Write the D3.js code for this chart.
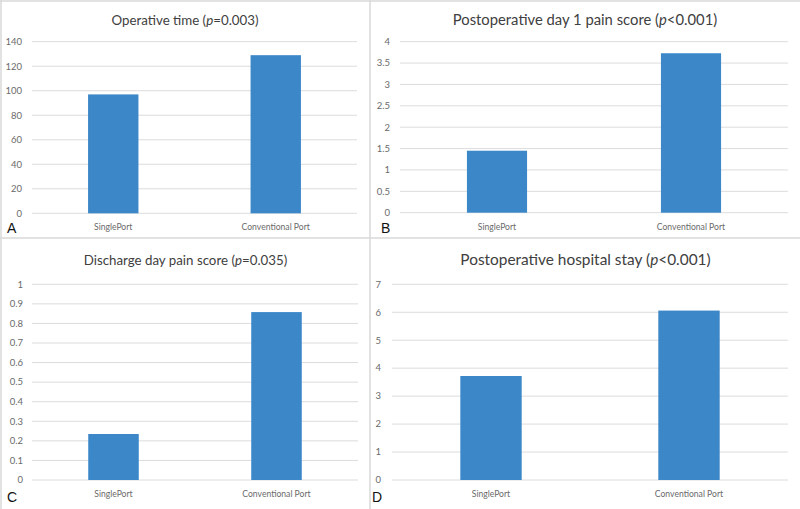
<!DOCTYPE html>
<html><head><meta charset="utf-8">
<script src="https://cdn.jsdelivr.net/npm/d3@7"></script>
<style>body{margin:0;background:#fff;} svg{display:block;}</style>
</head><body>
<svg id="c" width="800" height="509"></svg>
<script>
const categories = ["SinglePort", "Conventional Port"];
const operativeTime = [97, 129];
const day1Pain = [1.45, 3.73];
const dischargePain = [0.235, 0.858];
const hospitalStay = [3.72, 6.06];
const ticksA = [0, 20, 40, 60, 80, 100, 120, 140];
const ticksB = [0, 0.5, 1, 1.5, 2, 2.5, 3, 3.5, 4];
const ticksC = [0, 0.1, 0.2, 0.3, 0.4, 0.5, 0.6, 0.7, 0.8, 0.9, 1];
const ticksD = [0, 1, 2, 3, 4, 5, 6, 7];
const panels = [
  {letter:"A", title:"Operative time (", p:"p", rest:"=0.003)", values:operativeTime, ticks:ticksA, max:140,
   x0:32, x1:357, y0:213.3, y1:41.7, tx:185, ty:25, tsize:13.3, lx:7, ly:233, labRight:22},
  {letter:"B", title:"Postoperative day 1 pain score (", p:"p", rest:"<0.001)", values:day1Pain, ticks:ticksB, max:4,
   x0:400, x1:788, y0:212.7, y1:41.7, tx:585, ty:25, tsize:14.8, lx:381, ly:233, labRight:390},
  {letter:"C", title:"Discharge day pain score (", p:"p", rest:"=0.035)", values:dischargePain, ticks:ticksC, max:1,
   x0:32, x1:358, y0:480, y1:284.3, tx:185.5, ty:265, tsize:13.3, lx:7, ly:502, labRight:23},
  {letter:"D", title:"Postoperative hospital stay (", p:"p", rest:"<0.001)", values:hospitalStay, ticks:ticksD, max:7,
   x0:392, x1:788, y0:480, y1:284.3, tx:585.5, ty:265, tsize:15.4, lx:372, ly:502, labRight:381}
];
const svg = d3.select("#c");
const border = "#d9d9d9";
svg.append("line").attr("x1",1).attr("x2",1).attr("y1",0).attr("y2",509).attr("stroke",border).attr("stroke-width",1.5);
svg.append("line").attr("x1",0).attr("x2",800).attr("y1",1).attr("y2",1).attr("stroke",border).attr("stroke-width",1.5);
svg.append("line").attr("x1",370).attr("x2",370).attr("y1",0).attr("y2",509).attr("stroke",border).attr("stroke-width",1.5);
svg.append("line").attr("x1",0).attr("x2",800).attr("y1",238).attr("y2",238).attr("stroke",border).attr("stroke-width",1.5);

panels.forEach(P => {
  const g = svg.append("g");
  const x = d3.scaleBand().domain(categories).range([P.x0, P.x1]).padding(0);
  const y = d3.scaleLinear().domain([0, P.max]).range([P.y0, P.y1]);
  g.selectAll(".grid").data(P.ticks).join("line")
    .attr("x1", P.x0).attr("x2", P.x1)
    .attr("y1", d => y(d)).attr("y2", d => y(d))
    .attr("stroke", "#dcdcdc").attr("stroke-width", 1);
  g.selectAll(".yl").data(P.ticks).join("text")
    .attr("x", P.labRight).attr("y", d => y(d)).attr("dy", "0.35em")
    .attr("text-anchor", "end").attr("font-family", "Lato, 'Open Sans', sans-serif")
    .attr("font-size", 9.5).attr("fill", "#6a6a6a").text(d => d);
  const bw = x.bandwidth() * 0.31;
  g.selectAll(".bar").data(P.values).join("rect")
    .attr("x", (d,i) => x(categories[i]) + x.bandwidth()/2 - bw/2)
    .attr("width", bw)
    .attr("y", d => y(d)).attr("height", d => y(0) - y(d))
    .attr("fill", "#3c87c8");
  g.selectAll(".cl").data(categories).join("text")
    .attr("x", d => x(d) + x.bandwidth()/2).attr("y", P.y0 + 17)
    .attr("text-anchor", "middle").attr("font-family", "Lato, 'Open Sans', sans-serif")
    .attr("font-size", 8.6).attr("fill", "#6a6a6a").text(d => d);
  const t = g.append("text").attr("x", P.tx).attr("y", P.ty)
    .attr("text-anchor", "middle").attr("font-family", "Lato, 'Open Sans', sans-serif")
    .attr("font-size", P.tsize).attr("fill", "#404040");
  t.append("tspan").text(P.title);
  t.append("tspan").attr("font-style", "italic").text(P.p);
  t.append("tspan").text(P.rest);
  g.append("text").attr("x", P.lx).attr("y", P.ly)
    .attr("font-family", "'Liberation Sans', Arial, sans-serif").attr("font-size", 14)
    .attr("font-weight", 500).attr("fill", "#111").text(P.letter);
});
</script>
</body></html>
